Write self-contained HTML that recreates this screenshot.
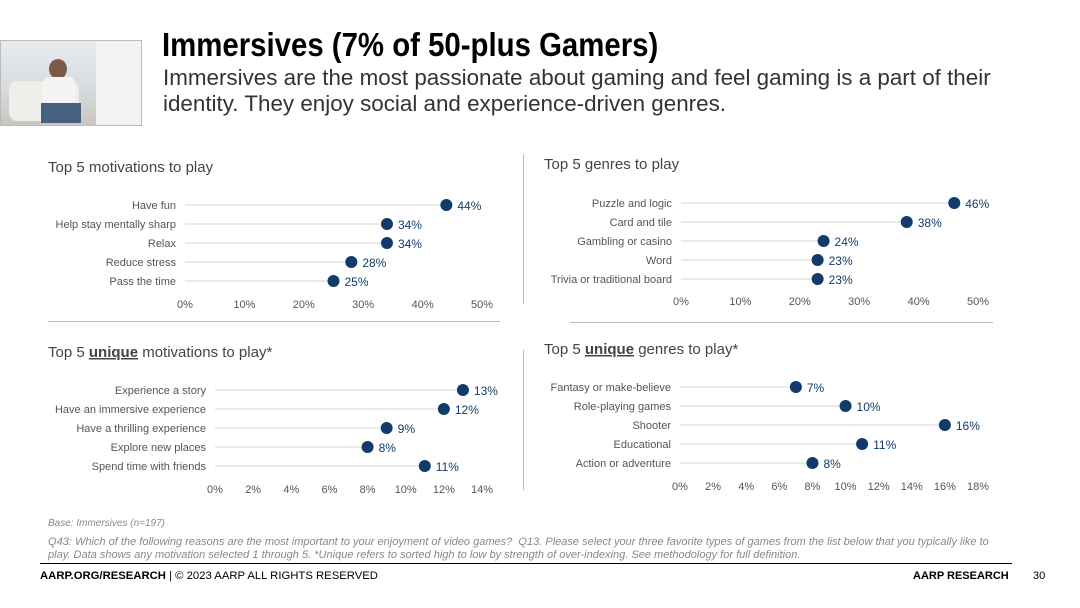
<!DOCTYPE html>
<html><head><meta charset="utf-8"><style>
body{margin:0;width:1080px;height:608px;background:#fff;position:relative;overflow:hidden;font-family:"Liberation Sans",sans-serif}
.abs{position:absolute}
</style></head><body>
<div class="abs" style="left:0;top:40px;width:140px;height:84px;background:linear-gradient(180deg,#e8ecef,#d6dadc 60%,#c9c6c0);border:1px solid #bbb">
 <div class="abs" style="left:8px;top:40px;width:70px;height:40px;background:#eeeeea;border-radius:8px"></div>
 <div class="abs" style="left:48px;top:18px;width:18px;height:20px;background:#7a5a45;border-radius:50%"></div>
 <div class="abs" style="left:42px;top:36px;width:32px;height:30px;background:#f4f4f2;border-radius:6px"></div>
 <div class="abs" style="left:40px;top:62px;width:40px;height:20px;background:#46617f"></div>
 <div class="abs" style="left:95px;top:0;width:45px;height:84px;background:#f3f4f2"></div>
</div>
<div class="abs" style="left:162px;top:26px;font-size:33px;font-weight:bold;transform:scaleX(0.89);transform-origin:left;color:#000">Immersives (7% of 50-plus Gamers)</div>
<div class="abs" style="left:163px;top:65px;font-size:22.4px;line-height:26px;color:#333;width:850px">Immersives are the most passionate about gaming and feel gaming is a part of their identity. They enjoy social and experience-driven genres.</div>

<div class="abs" style="left:523px;top:154px;width:1px;height:150px;background:#bbb"></div>
<div class="abs" style="left:523px;top:350px;width:1px;height:140px;background:#bbb"></div>
<div class="abs" style="left:48px;top:321px;width:452px;height:1px;background:#bbb"></div>
<div class="abs" style="left:570px;top:322px;width:423px;height:1px;background:#bbb"></div>

<svg class="abs" style="left:0;top:0" width="1080" height="608" id="charts"></svg>

<div class="abs" style="left:48px;top:518px;font-size:10px;font-style:italic;color:#888">Base: Immersives (n=197)</div>
<div class="abs" style="left:48px;top:536px;width:962px;font-size:11.2px;line-height:13px;font-style:italic;color:#888;transform:scaleX(0.985);transform-origin:left">Q43: Which of the following reasons are the most important to your enjoyment of video games?&nbsp; Q13. Please select your three favorite types of games from the list below that you typically like to play. Data shows any motivation selected 1 through 5. *Unique refers to sorted high to low by strength of over-indexing. See methodology for full definition.</div>
<div class="abs" style="left:40px;top:563px;width:972px;height:1px;background:#000"></div>
<div class="abs" style="left:40px;top:570px;font-size:11.3px;color:#000"><b>AARP.ORG/RESEARCH</b> | © 2023 AARP ALL RIGHTS RESERVED</div>
<div class="abs" style="left:913px;top:570px;font-size:11px;font-weight:bold;color:#000">AARP RESEARCH</div>
<div class="abs" style="left:1033px;top:570px;font-size:11px;color:#000">30</div>

<script>
const c1Cats=["Have fun","Help stay mentally sharp","Relax","Reduce stress","Pass the time"];
const c1Vals=[44,34,34,28,25];
const c1Ticks=[0,10,20,30,40,50];
const c2Cats=["Puzzle and logic","Card and tile","Gambling or casino","Word","Trivia or traditional board"];
const c2Vals=[46,38,24,23,23];
const c2Ticks=[0,10,20,30,40,50];
const c3Cats=["Experience a story","Have an immersive experience","Have a thrilling experience","Explore new places","Spend time with friends"];
const c3Vals=[13,12,9,8,11];
const c3Ticks=[0,2,4,6,8,10,12,14];
const c4Cats=["Fantasy or make-believe","Role-playing games","Shooter","Educational","Action or adventure"];
const c4Vals=[7,10,16,11,8];
const c4Ticks=[0,2,4,6,8,10,12,14,16,18];

const svg=document.getElementById('charts');
const NS='http://www.w3.org/2000/svg';
function mk(t,a,txt){const e=document.createElementNS(NS,t);for(const k in a)e.setAttribute(k,a[k]);if(txt!=null)e.textContent=txt;svg.appendChild(e);return e;}

function chart(p,cats,vals,ticks){
  const max=ticks[ticks.length-1];
  const x=v=>p.x0+(v/max)*(p.x1-p.x0);
  const y=i=>p.y0+i*19;
  const title=mk('text',{x:p.tx,y:p.ty,'font-size':15,fill:'#444'});
  
  
  if(p.unique){
    title.appendChild(document.createTextNode('Top 5 '));
    const u=document.createElementNS(NS,'tspan');u.setAttribute('font-weight','bold');u.setAttribute('text-decoration','underline');u.textContent='unique';title.appendChild(u);
    title.appendChild(document.createTextNode(' '+p.title));
  } else title.textContent='Top 5 '+p.title;
  cats.forEach((c,i)=>{
    const ln=mk('line',{x1:p.x0,x2:x(vals[i]),y1:y(i),y2:y(i),stroke:'#e3e3e3','stroke-width':1.5});
    
    
    const lb=mk('text',{x:p.x0-9,y:y(i)+4,'font-size':11,fill:'#555','text-anchor':'end'},c);
    
    
    const d=mk('circle',{cx:x(vals[i]),cy:y(i),r:6,fill:'#123b69'});
    
    
    const v=mk('text',{x:x(vals[i])+11,y:y(i)+5,'font-size':12,fill:'#123b69'},vals[i]+'%');
    
    
  });
  ticks.forEach(t=>{
    const tk=mk('text',{x:x(t),y:p.ty2,'font-size':11,fill:'#555','text-anchor':'middle'},t+'%');
    
    
  });
}
chart({x0:185,x1:482,y0:205,tx:48,ty:172,ty2:308,title:'motivations to play'},c1Cats,c1Vals,c1Ticks);
chart({x0:681,x1:978,y0:203,tx:544,ty:169,ty2:305,title:'genres to play'},c2Cats,c2Vals,c2Ticks);
chart({x0:215,x1:482,y0:390,tx:48,ty:357,ty2:493,title:'motivations to play*',unique:true},c3Cats,c3Vals,c3Ticks);
chart({x0:680,x1:978,y0:387,tx:544,ty:354,ty2:490,title:'genres to play*',unique:true},c4Cats,c4Vals,c4Ticks);
</script>
</body></html>
